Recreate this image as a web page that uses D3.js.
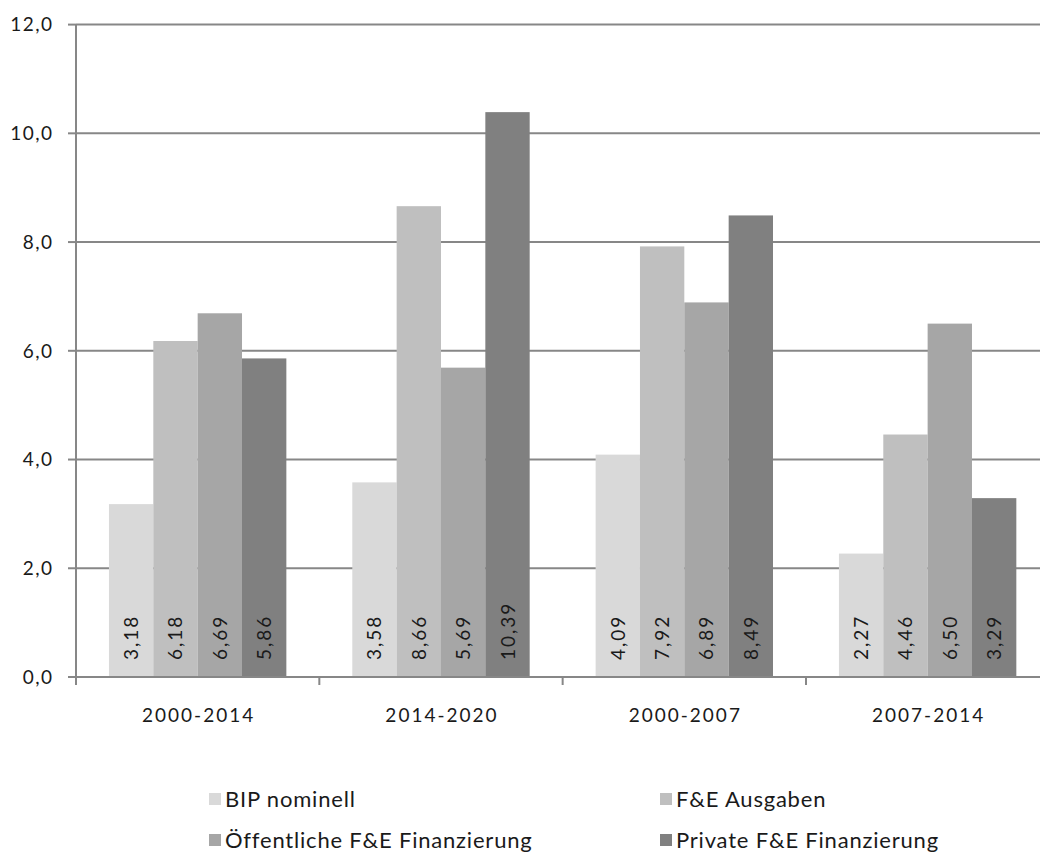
<!DOCTYPE html>
<html>
<head>
<meta charset="utf-8">
<script src="https://cdn.jsdelivr.net/npm/d3@7"></script>
<style>
html,body{margin:0;padding:0;background:#fff;}
svg{display:block;}
text{font-family:"Lato","Open Sans",sans-serif;fill:#1a1a1a;}
</style>
</head>
<body>
<svg id="chart" width="1040" height="854"></svg>
<script>
const categories = ["2000-2014", "2014-2020", "2000-2007", "2007-2014"];
const seriesNames = ["BIP nominell", "F&E Ausgaben", "Öffentliche F&E Finanzierung", "Private F&E Finanzierung"];
const bipNominell = [3.18, 3.58, 4.09, 2.27];
const feAusgaben = [6.18, 8.66, 7.92, 4.46];
const oeffentlich = [6.69, 5.69, 6.89, 6.50];
const privat = [5.86, 10.39, 8.49, 3.29];
const yTicks = [0, 2, 4, 6, 8, 10, 12];
const colors = ["#d9d9d9", "#bfbfbf", "#a6a6a6", "#808080"];

const seriesValues = [bipNominell, feAusgaben, oeffentlich, privat];
const fmt = v => v.toFixed(2).replace(".", ",");
const fmtY = v => v.toFixed(1).replace(".", ",");

const svg = d3.select("#chart");
const mLeft = 76, mRight = 1049.3, mTop = 24.6, mBottom = 677;

const y = d3.scaleLinear().domain([0, 12]).range([mBottom, mTop]);
const x0 = d3.scaleBand().domain(categories).range([mLeft, mRight]).paddingInner(0.271).paddingOuter(0.1355);
const x1 = d3.scaleBand().domain(d3.range(4)).range([0, x0.bandwidth()]);
const step = x0.step();

// gridlines
svg.append("g").selectAll("line").data(yTicks.filter(d => d > 0)).join("line")
  .attr("x1", mLeft).attr("x2", mRight)
  .attr("y1", d => y(d)).attr("y2", d => y(d))
  .attr("stroke", "#878787").attr("stroke-width", 2);

// y tick marks and labels
svg.append("g").selectAll("line").data(yTicks).join("line")
  .attr("x1", mLeft - 8).attr("x2", mLeft)
  .attr("y1", d => y(d)).attr("y2", d => y(d))
  .attr("stroke", "#878787").attr("stroke-width", 2);
svg.append("g").selectAll("text").data(yTicks).join("text")
  .attr("x", 53.5).attr("y", d => y(d)).attr("dy", "0.36em")
  .attr("text-anchor", "end").attr("font-size", 19).attr("letter-spacing", 1.5)
  .text(fmtY);

// bars
const groups = svg.append("g").selectAll("g").data(categories).join("g")
  .attr("transform", c => `translate(${x0(c)},0)`);
groups.each(function(c, ci) {
  const g = d3.select(this);
  seriesValues.forEach((vals, si) => {
    const v = vals[ci];
    g.append("rect")
      .attr("x", x1(si)).attr("width", x1.bandwidth())
      .attr("y", y(v)).attr("height", y(0) - y(v))
      .attr("fill", colors[si]);
    const cx = x1(si) + x1.bandwidth() / 2;
    g.append("text")
      .attr("transform", `translate(${cx + 7},${y(0) - 17}) rotate(-90)`)
      .attr("font-size", 19).attr("letter-spacing", 2)
      .text(fmt(v));
  });
});

// axes lines
svg.append("line").attr("x1", mLeft - 8).attr("x2", mRight).attr("y1", y(0)).attr("y2", y(0))
  .attr("stroke", "#878787").attr("stroke-width", 2);
svg.append("line").attr("x1", mLeft).attr("x2", mLeft).attr("y1", mTop).attr("y2", y(0) + 8)
  .attr("stroke", "#878787").attr("stroke-width", 2);
svg.append("g").selectAll("line").data(categories.slice(1)).join("line")
  .attr("x1", c => x0(c) - step * 0.271 / 2).attr("x2", c => x0(c) - step * 0.271 / 2)
  .attr("y1", y(0)).attr("y2", y(0) + 8)
  .attr("stroke", "#878787").attr("stroke-width", 2);

// x labels
svg.append("g").selectAll("text").data(categories).join("text")
  .attr("x", c => x0(c) + x0.bandwidth() / 2 + 1).attr("y", 722)
  .attr("text-anchor", "middle").attr("font-size", 19).attr("letter-spacing", 2)
  .text(c => c);

// legend
const legPos = [[209, 799], [660, 799], [209, 840], [660, 840]];
const leg = svg.append("g").selectAll("g").data(seriesNames).join("g")
  .attr("transform", (d, i) => `translate(${legPos[i][0]},${legPos[i][1]})`);
leg.append("rect").attr("x", 0).attr("y", -6).attr("width", 12).attr("height", 12)
  .attr("fill", (d, i) => colors[i]);
leg.append("text").attr("x", 16).attr("y", 0).attr("dy", "0.36em")
  .attr("font-size", 22).attr("letter-spacing", 0.8).text(d => d);
</script>
</body>
</html>
